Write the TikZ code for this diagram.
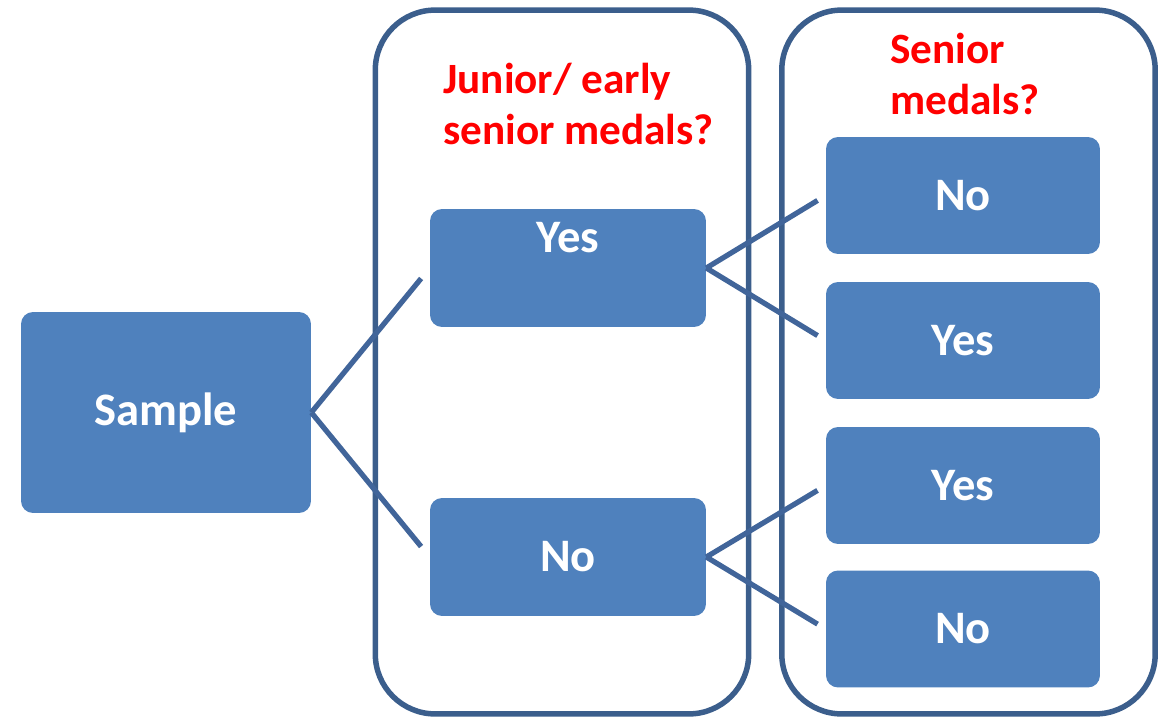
\documentclass[tikz,border=0pt]{standalone}
\usepackage{fontspec}
\setmainfont{Carlito}
\usetikzlibrary{positioning}
\definecolor{boxblue}{HTML}{4F81BD}
\definecolor{lineblue}{HTML}{41659A}
\definecolor{frameblue}{HTML}{3B5E8C}

\begin{document}
\begin{tikzpicture}[x=0.02cm, y=-0.02cm,
	box/.style={rectangle, rounded corners=0.24cm, fill=boxblue, text=white, font=\fontsize{26.5}{30}\selectfont\bfseries, minimum width=5.48cm, minimum height=2.34cm},
	frame/.style={rectangle, rounded corners=1.2cm, draw=frameblue, line width=0.11cm, minimum width=7.47cm, minimum height=14.08cm},
	question/.style={text=red, font=\fontsize{24.6}{29.5}\selectfont\bfseries, align=left, anchor=west, inner sep=0pt},
	branch/.style={draw=lineblue, line width=0.105cm}]
		\useasboundingbox (0,0) rectangle (1171,718);

		% Frames
		\node[frame] (juniorframe) at (562,362) {};
		\node[frame] (seniorframe) at (968.5,362) {};
		\node[question] (juniorq) at (443,104) {Junior/ early\\senior medals?};
		\node[question] (seniorq) at (890,74) {Senior\\medals?};

		% Sample
		\node[box, minimum width=5.8cm, minimum height=4.02cm] (sample) at (166,412.5) {Sample};

		% Junior medals
		\node[box, minimum width=5.52cm, minimum height=2.36cm, label={[text=white, font=\fontsize{26.5}{30}\selectfont\bfseries, anchor=north, yshift=-0.15cm]north:Yes}] (juniorYes) at (568,268) {};
		\node[box, minimum width=5.52cm, minimum height=2.36cm] (juniorNo) at (568,557) {No};

		% Senior medals
		\node[box] (yesNo) at (963,195.5) {No};
		\node[box] (yesYes) at (963,340.5) {Yes};
		\node[box] (noYes) at (963,485.5) {Yes};
		\node[box] (noNo) at (963,629) {No};

		% Branches
		\draw[branch, shorten >=0.27cm] (sample.east) -- (juniorYes.west);
		\draw[branch, shorten >=0.27cm] (sample.east) -- (juniorNo.west);
		\draw[branch, shorten >=0.19cm] (juniorYes.east) -- (yesNo.west);
		\draw[branch, shorten >=0.19cm] (juniorYes.east) -- (yesYes.west);
		\draw[branch, shorten >=0.19cm] (juniorNo.east) -- (noYes.west);
		\draw[branch, shorten >=0.19cm] (juniorNo.east) -- (noNo.west);
\end{tikzpicture}
\end{document}
